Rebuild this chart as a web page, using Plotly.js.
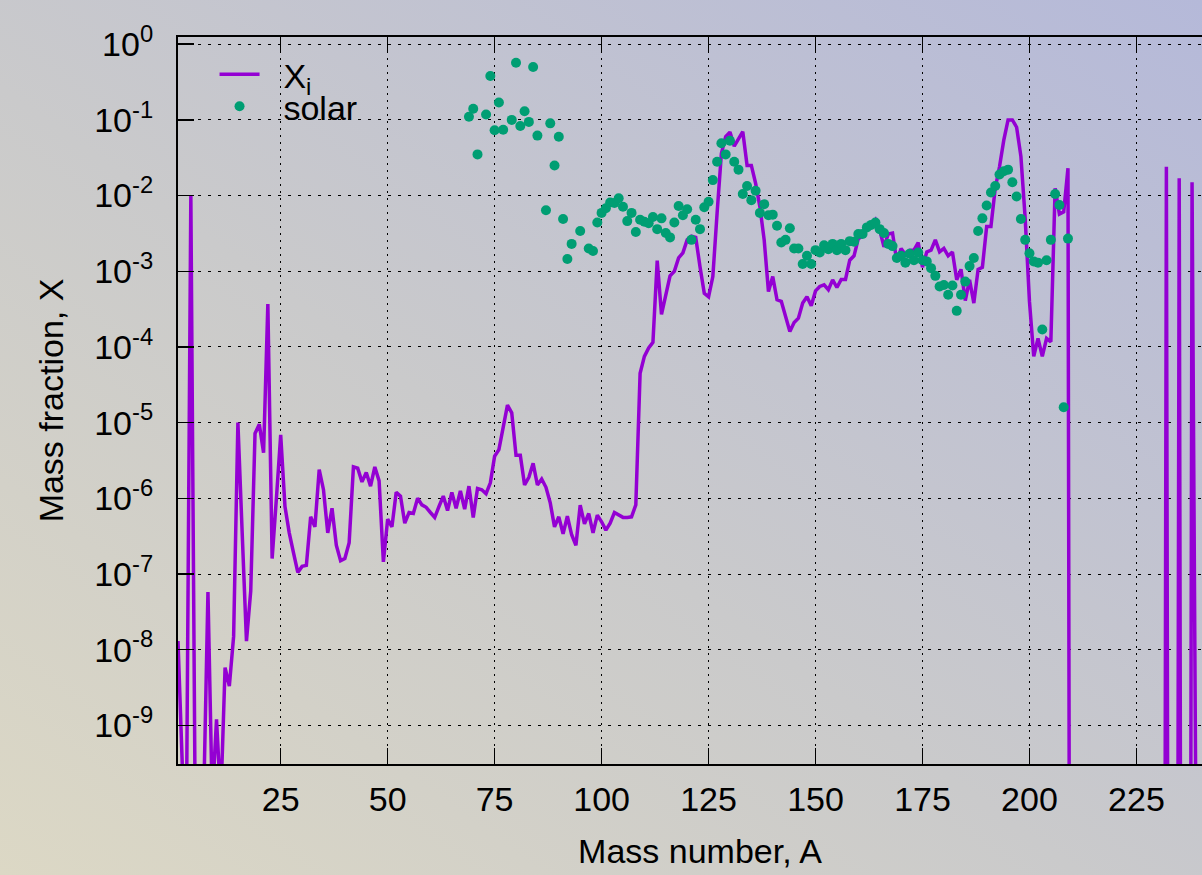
<!DOCTYPE html>
<html>
<head>
<meta charset="utf-8">
<script src="https://cdn.plot.ly/plotly-3.0.1.min.js"></script>
<style>
  html, body { margin: 0; padding: 0; width: 1202px; height: 875px; overflow: hidden; }
  body { background: linear-gradient(to top right, #dcd8c5 0%, #cacacb 45%, #b5b9d9 100%); }
  #chart { width: 1240px; height: 875px; }
</style>
</head>
<body>
<div id="chart"></div>
<script>
// Mass numbers of the network abundances (A = 1 .. 245)
const massNumber = [
  1,2,3,4,5,6,7,8,9,10,11,12,13,14,15,16,17,18,19,20,
  21,22,23,24,25,26,27,28,29,30,31,32,33,34,35,36,37,38,39,40,
  41,42,43,44,45,46,47,48,49,50,51,52,53,54,55,56,57,58,59,60,
  61,62,63,64,65,66,67,68,69,70,71,72,73,74,75,76,77,78,79,80,
  81,82,83,84,85,86,87,88,89,90,91,92,93,94,95,96,97,98,99,100,
  101,102,103,104,105,106,107,108,109,110,111,112,113,114,115,116,117,118,119,120,
  121,122,123,124,125,126,127,128,129,130,131,132,133,134,135,136,137,138,139,140,
  141,142,143,144,145,146,147,148,149,150,151,152,153,154,155,156,157,158,159,160,
  161,162,163,164,165,166,167,168,169,170,171,172,173,174,175,176,177,178,179,180,
  181,182,183,184,185,186,187,188,189,190,191,192,193,194,195,196,197,198,199,200,
  201,202,203,204,205,206,207,208,209,210,211,212,213,214,215,216,217,218,219,220,
  221,222,223,224,225,226,227,228,229,230,231,232,233,234,235,236,237,238,239,240,
  241,242,243,244,245
];
// Mass fractions X_i (values far below the axis mean "essentially zero")
const massFraction = [
  1.3e-8,3e-10,1e-10,1.0e-2,1e-10,1e-10,1e-10,5.8e-8,1e-10,1.2e-9,
  1e-10,5.8e-9,3.3e-9,1.5e-8,1e-5,3.5e-7,1.3e-8,6e-8,7.2e-6,9.5e-6,
  4e-6,3.7e-4,1.6e-7,1e-6,6.9e-6,7.8e-7,3.5e-7,1.9e-7,1.05e-7,1.26e-7,
  1.3e-7,5.7e-7,4.2e-7,2.4e-6,1.3e-6,3.5e-7,7.4e-7,2.4e-7,1.5e-7,1.6e-7,
  2.6e-7,2.6e-6,2.5e-6,1.65e-6,2.2e-6,1.45e-6,2.6e-6,1.7e-6,1.45e-7,5.3e-7,
  4.2e-7,1.2e-6,1.07e-6,4.7e-7,6.5e-7,6.3e-7,1e-6,8.2e-7,7.6e-7,6.5e-7,
  5.6e-7,7.8e-7,1.07e-6,6.9e-7,1.2e-6,7.4e-7,1.25e-6,7.2e-7,1.45e-6,5.6e-7,
  1.35e-6,1.3e-6,1.15e-6,1.6e-6,3.6e-6,4.4e-6,8.5e-6,1.7e-5,1.35e-5,3.7e-6,
  3.7e-6,1.5e-6,1.9e-6,2.9e-6,1.5e-6,1.8e-6,1.4e-6,8.7e-7,4.2e-7,5.7e-7,
  3.4e-7,5.8e-7,3.3e-7,2.4e-7,8.1e-7,4.6e-7,6.3e-7,3.5e-7,6e-7,4.9e-7,
  3.8e-7,4.7e-7,6.5e-7,6e-7,5.6e-7,5.6e-7,5.7e-7,8.2e-7,4.5e-5,7.5e-5,
  9.7e-5,1.15e-4,1.38e-3,2.7e-4,4.9e-4,8.7e-4,1e-3,1.5e-3,1.75e-3,2.6e-3,
  2.9e-3,2.8e-3,1.15e-3,5.1e-4,4.6e-4,8.5e-4,5.9e-3,0.036,0.06,0.069,
  0.045,0.056,0.07,0.025,0.025,0.0145,7.1e-3,2.6e-3,5.4e-4,8.5e-4,
  4.2e-4,4e-4,2.5e-4,1.6e-4,2.1e-4,2.4e-4,3.8e-4,4.6e-4,3.5e-4,5.5e-4,
  6.3e-4,6.6e-4,5.7e-4,7.7e-4,6.1e-4,7.8e-4,7.8e-4,1.4e-3,1.6e-3,2.7e-3,
  2.9e-3,3.6e-3,4.1e-3,4.8e-3,3.5e-3,2.1e-3,3.1e-3,3.2e-3,1.34e-3,2e-3,
  1.65e-3,1.9e-3,1.9e-3,2.4e-3,1.13e-3,1.8e-3,1.9e-3,2.6e-3,1.8e-3,2e-3,
  1.6e-3,1.8e-3,7.7e-4,1.06e-3,4.1e-4,7.7e-4,3.8e-4,1.06e-3,1.13e-3,3.9e-3,
  3.9e-3,0.0125,0.024,0.054,0.1,0.1,0.08,0.033,5e-3,4e-4,
  7.5e-5,1.3e-4,7.5e-5,1.3e-4,1.17e-4,0.0125,5.7e-3,6.1e-3,0.023,1e-30,
  1e-30,1e-30,1e-30,1e-30,1e-30,1e-30,1e-30,1e-30,1e-30,1e-30,
  1e-30,1e-30,1e-30,1e-30,1e-30,1e-30,1e-30,1e-30,1e-30,1e-30,
  1e-30,0.024,1e-30,1e-30,0.017,1e-30,1e-30,0.015,1e-30,1e-30,
  1e-30,1e-30,1e-30,1e-30,1e-30
];
// Solar abundances
const solarA = [
  69,70,71,73,74,75,76,77,79,80,81,82,83,84,85,87,88,89,90,91,
  92,93,95,97,98,99,100,101,102,103,104,105,106,107,108,109,110,111,112,113,
  114,115,116,117,118,119,120,121,122,123,124,125,126,127,128,129,130,131,132,133,
  134,135,136,137,138,139,140,141,142,143,144,145,146,147,148,149,150,151,152,153,
  154,155,156,157,158,159,160,161,162,163,164,165,166,167,168,169,170,171,172,173,
  174,175,176,177,178,179,180,181,182,183,184,185,186,187,188,189,190,191,192,193,
  194,195,196,197,198,199,200,201,202,203,204,205,206,207,208,209
];
const solarX = [
  0.11,0.14,0.035,0.118,0.38,0.073,0.17,0.074,0.1,0.57,0.083,0.13,0.094,0.5,0.062,6.4e-3,0.09,0.025,0.06,4.9e-3,
  1.45e-3,2.3e-3,3.4e-3,2e-3,1.85e-3,4.4e-3,5.9e-3,6.8e-3,8.1e-3,8e-3,9.2e-3,7.1e-3,4.6e-3,5.9e-3,3.3e-3,4.8e-3,4.5e-3,4.3e-3,5.2e-3,3.6e-3,
  5e-3,3.2e-3,2.8e-3,4.4e-3,7.3e-3,5.5e-3,6.6e-3,2.6e-3,4.8e-3,3.6e-3,7e-3,8.3e-3,0.016,0.028,0.049,0.035,0.053,0.028,0.022,0.0105,
  0.0134,8.7e-3,0.0116,5.9e-3,7.7e-3,5.5e-3,5.6e-3,4e-3,2.4e-3,2.6e-3,3.7e-3,2e-3,2e-3,1.25e-3,1.6e-3,1.25e-3,1.9e-3,1.77e-3,2.2e-3,1.95e-3,
  2.3e-3,1.9e-3,2.3e-3,1.9e-3,2.5e-3,2.45e-3,3.1e-3,3.1e-3,3.8e-3,4.1e-3,4.4e-3,3.6e-3,3.2e-3,2.3e-3,2.15e-3,1.5e-3,1.6e-3,1.3e-3,1.7e-3,1.4e-3,
  1.77e-3,1.4e-3,1.35e-3,1.1e-3,8.7e-4,6.3e-4,6.6e-4,4.9e-4,6.5e-4,3e-4,4.9e-4,7.3e-4,1.17e-3,1.5e-3,3.4e-3,5e-3,7.4e-3,0.011,0.0134,0.019,
  0.021,0.022,0.015,9.7e-3,4.9e-3,2.6e-3,1.73e-3,1.35e-3,1.3e-3,1.7e-4,1.4e-3,2.6e-3,0.0105,7.5e-3,1.6e-5,2.7e-3
];
// Axis ticks
const xTickVals = [25, 50, 75, 100, 125, 150, 175, 200, 225];
const yTickVals = [1, 1e-1, 1e-2, 1e-3, 1e-4, 1e-5, 1e-6, 1e-7, 1e-8, 1e-9];
const yTickText = ['10<sup>0</sup>','10<sup>-1</sup>','10<sup>-2</sup>','10<sup>-3</sup>','10<sup>-4</sup>',
                   '10<sup>-5</sup>','10<sup>-6</sup>','10<sup>-7</sup>','10<sup>-8</sup>','10<sup>-9</sup>'];

const FONT = 'Liberation Sans, Arial, Helvetica, sans-serif';

const traces = [
  {
    x: massNumber, y: massFraction, type: 'scatter', mode: 'lines',
    name: '&nbsp;&nbsp;X<sub>i</sub>', legend: 'legend',
    line: { color: '#9400d3', width: 3.5 }
  },
  {
    x: solarA, y: solarX, type: 'scatter', mode: 'markers',
    name: '&nbsp;&nbsp;solar', legend: 'legend2',
    marker: { color: '#009e73', size: 10 }
  }
];

const axisCommon = {
  showline: true, linecolor: '#000', linewidth: 2, mirror: 'ticks',
  ticks: 'inside', ticklen: 16, tickwidth: 1.5, tickcolor: '#000',
  showgrid: true, gridcolor: '#000', gridwidth: 1,
  zeroline: false,
  tickfont: { family: FONT, size: 34, color: '#000' }
};

const layout = {
  width: 1240, height: 875,
  margin: { l: 178, r: 18, t: 37, b: 111 },
  paper_bgcolor: 'rgba(0,0,0,0)',
  plot_bgcolor: 'rgba(0,0,0,0)',
  font: { family: FONT, size: 34, color: '#000' },
  xaxis: Object.assign({}, axisCommon, {
    range: [1, 245],
    tickmode: 'array', tickvals: xTickVals,
    griddash: '2px,5px',
    ticklabelstandoff: 4,
    title: { text: 'Mass number, A', font: { family: FONT, size: 34, color: '#000' }, standoff: 22 }
  }),
  yaxis: Object.assign({}, axisCommon, {
    type: 'log',
    range: [-9.51, 0.095],
    tickmode: 'array', tickvals: yTickVals, ticktext: yTickText,
    griddash: '3px,7px',
    ticklabelstandoff: 16,
    title: { text: 'Mass fraction, X', font: { family: FONT, size: 34, color: '#000' }, standoff: 20 }
  }),
  legend: {
    x: 0.035, y: 0.988, xanchor: 'left', yanchor: 'top',
    bgcolor: 'rgba(0,0,0,0)', borderwidth: 0,
    font: { family: FONT, size: 34, color: '#000' },
    itemwidth: 40
  },
  legend2: {
    x: 0.035, y: 0.944, xanchor: 'left', yanchor: 'top',
    bgcolor: 'rgba(0,0,0,0)', borderwidth: 0,
    font: { family: FONT, size: 34, color: '#000' },
    itemwidth: 40
  },
  showlegend: true
};

Plotly.newPlot('chart', traces, layout, { displayModeBar: false, staticPlot: true });
</script>
</body>
</html>
